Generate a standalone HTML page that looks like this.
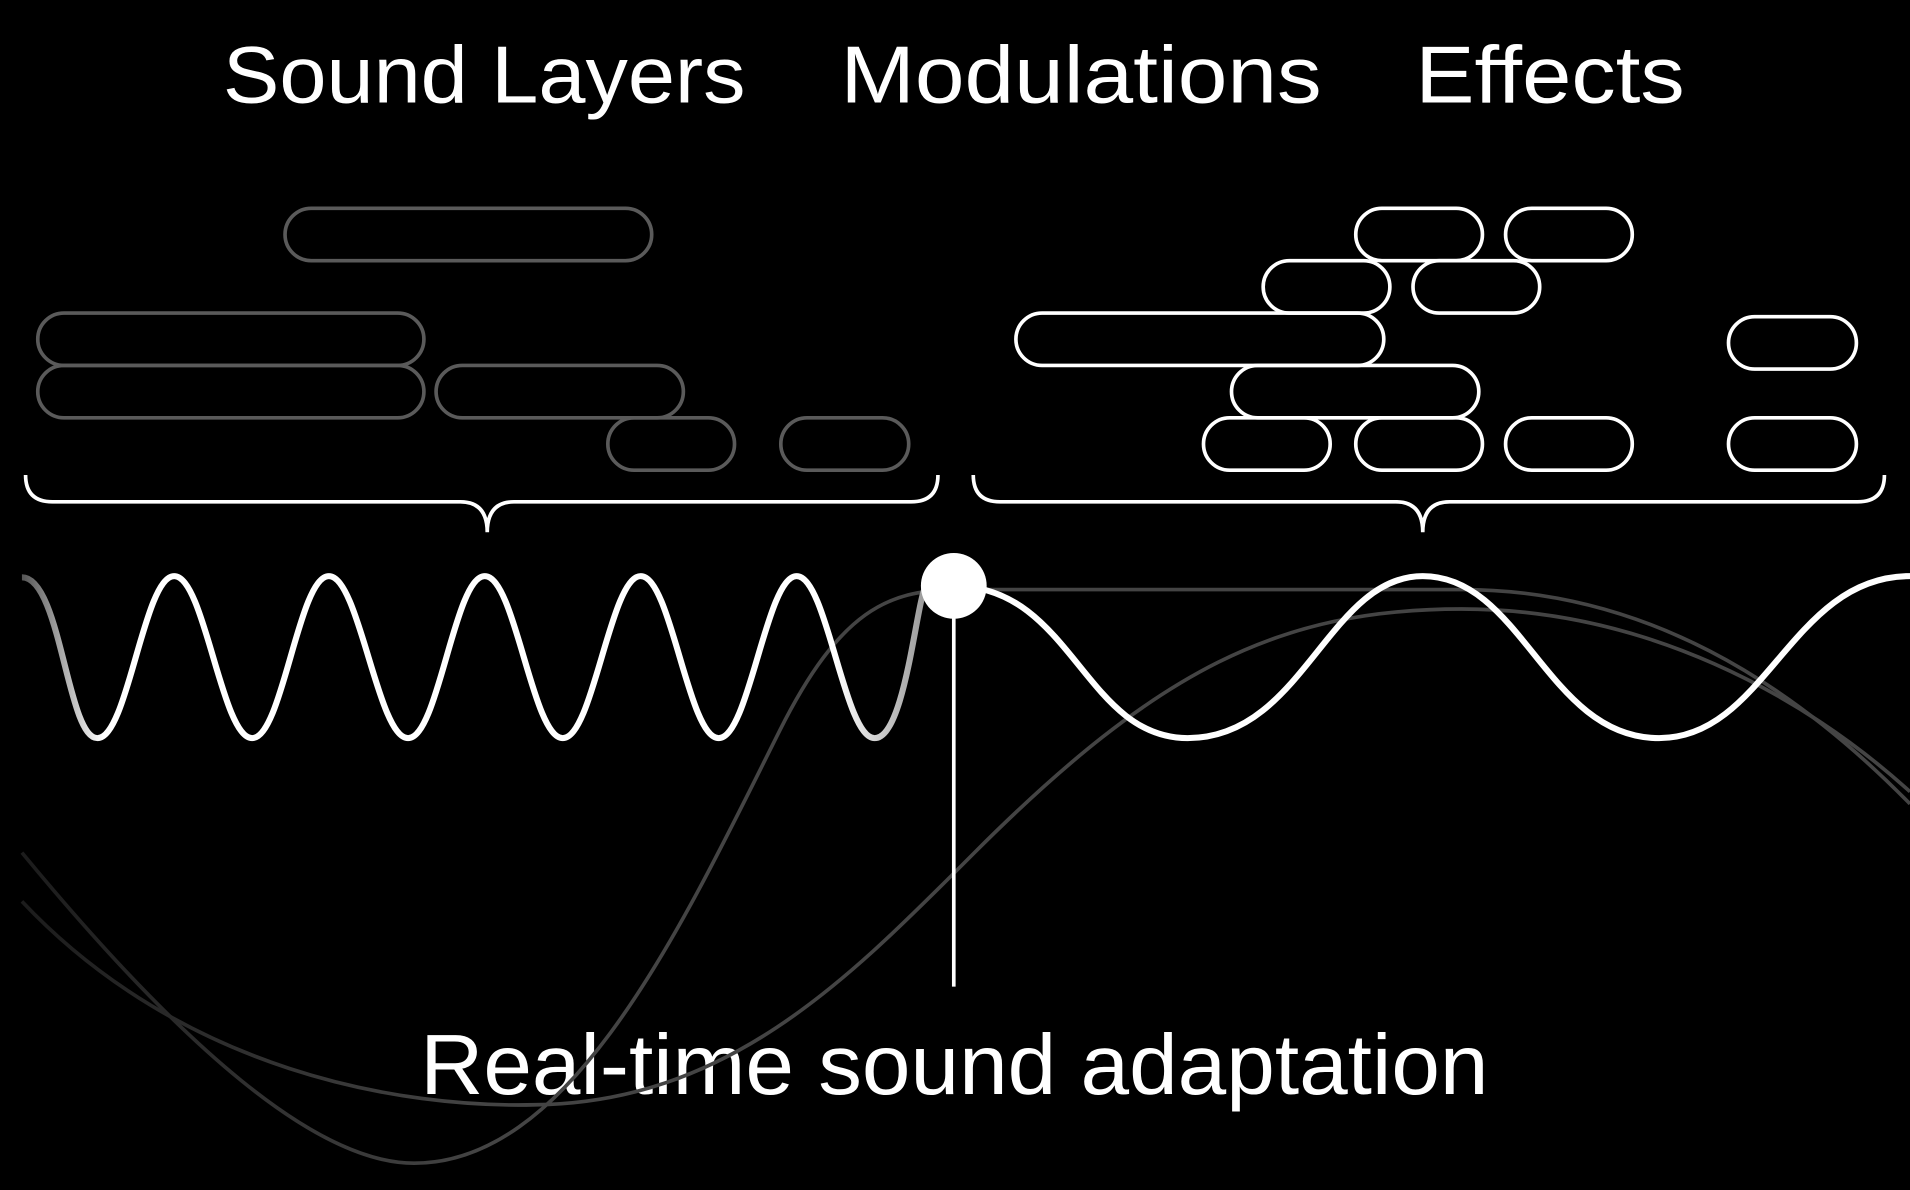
<!DOCTYPE html>
<html><head><meta charset="utf-8"><style>html,body{margin:0;padding:0;background:#000;width:1910px;height:1190px;overflow:hidden}svg{display:block}</style></head><body>
<svg width="1910" height="1190" viewBox="0 0 1568 977" xmlns="http://www.w3.org/2000/svg" preserveAspectRatio="none">
<defs>
<linearGradient id="gf" x1="0" y1="0" x2="1568" y2="0" gradientUnits="userSpaceOnUse">
<stop offset="0" stop-color="#1a1a1a"/><stop offset="0.25" stop-color="#444"/><stop offset="1" stop-color="#444"/>
</linearGradient>
<linearGradient id="wf" x1="18" y1="0" x2="760" y2="0" gradientUnits="userSpaceOnUse">
<stop offset="0" stop-color="#555"/><stop offset="0.09" stop-color="#fff"/><stop offset="0.9" stop-color="#fff"/><stop offset="1" stop-color="#999"/>
</linearGradient>
</defs>
<rect width="1568" height="977" fill="#000"/>
<g font-family="Liberation Sans, sans-serif" fill="#fff" font-size="66">
<text x="183" y="84" textLength="429" lengthAdjust="spacingAndGlyphs">Sound Layers</text>
<text x="690" y="84" textLength="395" lengthAdjust="spacingAndGlyphs">Modulations</text>
<text x="1162" y="84" textLength="221" lengthAdjust="spacingAndGlyphs">Effects</text>
<text x="345" y="898" font-size="70" textLength="877" lengthAdjust="spacingAndGlyphs">Real-time sound adaptation</text>
</g>
<g fill="none" stroke="#5a5a5a" stroke-width="3">
<rect x="234" y="171" width="301" height="43" rx="21.5"/>
<rect x="31" y="257" width="317" height="43" rx="21.5"/>
<rect x="31" y="300" width="317" height="43" rx="21.5"/>
<rect x="358" y="300" width="203" height="43" rx="21.5"/>
<rect x="499" y="343" width="104" height="43" rx="21.5"/>
<rect x="641" y="343" width="105" height="43" rx="21.5"/>
</g>
<g fill="none" stroke="#fff" stroke-width="3">
<rect x="1113" y="171" width="104" height="43" rx="21.5"/>
<rect x="1236" y="171" width="104" height="43" rx="21.5"/>
<rect x="1037" y="214" width="104" height="43" rx="21.5"/>
<rect x="1160" y="214" width="104" height="43" rx="21.5"/>
<rect x="834" y="257" width="302" height="43" rx="21.5"/>
<rect x="1419" y="260" width="105" height="43" rx="21.5"/>
<rect x="1011" y="300" width="203" height="43" rx="21.5"/>
<rect x="988" y="343" width="104" height="43" rx="21.5"/>
<rect x="1113" y="343" width="104" height="43" rx="21.5"/>
<rect x="1236" y="343" width="104" height="43" rx="21.5"/>
<rect x="1419" y="343" width="105" height="43" rx="21.5"/>
<path d="M21 390 Q21 412 43 412 L378 412 Q400 412 400 437 Q400 412 422 412 L748 412 Q770 412 770 390"/>
<path d="M799 390 Q799 412 821 412 L1146 412 Q1168 412 1168 437 Q1168 412 1190 412 L1525 412 Q1547 412 1547 390"/>
</g>
<g fill="none" stroke="url(#gf)" stroke-width="3">
<path d="M18 700 C150 860 260 955 340 955 C470 955 560 760 640 600 C690 500 730 485 783 484 L1200 484 C1350 484 1470 560 1568 660"/>
<path d="M18 740 C150 880 330 910 440 907 C600 905 700 800 800 700 C950 550 1050 500 1200 500 C1350 500 1480 570 1568 650"/>
</g>
<path fill="none" stroke="url(#wf)" stroke-width="5" d="M18 474 C50 474 55 606 80 606 C105 606 118 473 143 473 C168 473 182 606 207 606 C232 606 245 473 270 473 C295 473 310 606 335 606 C360 606 373 473 398 473 C423 473 437 606 462 606 C487 606 501 473 526 473 C551 473 565 606 590 606 C615 606 629 473 654 473 C679 473 693 606 718 606 C743 606 752 495 760 481"/>
<path fill="none" stroke="#fff" stroke-width="5" d="M783 481 C880 481 890 606 975 606 C1070 606 1090 473 1168 473 C1250 473 1270 606 1362 606 C1450 606 1470 473 1568 473"/>
<line x1="783" y1="481" x2="783" y2="810" stroke="#fff" stroke-width="3"/>
<circle cx="783" cy="481" r="27" fill="#fff"/>
</svg>
</body></html>
